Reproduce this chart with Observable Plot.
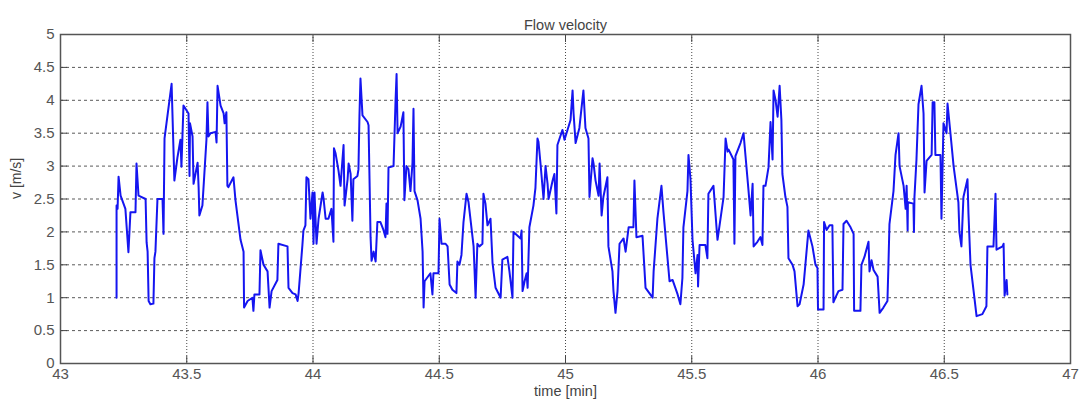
<!DOCTYPE html>
<html>
<head>
<meta charset="utf-8">
<script src="https://cdn.jsdelivr.net/npm/d3@7"></script>
<script src="https://cdn.jsdelivr.net/npm/@observablehq/plot@0.6"></script>
<style>
  html, body { margin: 0; padding: 0; background: #fff; }
  svg { display: block; }
</style>
</head>
<body>
<div id="chart"></div>
<script>
const chartTitle = "Flow velocity";
const xLabel = "time [min]";
const yLabel = "v [m/s]";
const xTicks = [43, 43.5, 44, 44.5, 45, 45.5, 46, 46.5, 47];
const yTicks = [0, 0.5, 1, 1.5, 2, 2.5, 3, 3.5, 4, 4.5, 5];

const timeMin = [43.222,43.222,43.226,43.230,43.238,43.257,43.269,43.277,43.297,43.301,43.309,43.337,43.341,43.345,43.349,43.356,43.368,43.372,43.376,43.384,43.404,43.408,43.412,43.440,43.451,43.463,43.475,43.479,43.487,43.507,43.511,43.513,43.523,43.527,43.543,43.547,43.550,43.562,43.578,43.582,43.586,43.594,43.614,43.618,43.622,43.634,43.646,43.650,43.657,43.661,43.665,43.685,43.693,43.713,43.725,43.727,43.741,43.760,43.764,43.768,43.788,43.792,43.804,43.820,43.828,43.836,43.859,43.863,43.899,43.903,43.919,43.931,43.939,43.943,43.958,43.962,43.970,43.974,43.982,43.990,43.998,44.002,44.006,44.014,44.022,44.038,44.042,44.050,44.061,44.073,44.081,44.083,44.089,44.101,44.109,44.121,44.125,44.137,44.141,44.149,44.156,44.160,44.176,44.180,44.184,44.188,44.196,44.216,44.220,44.228,44.232,44.240,44.248,44.255,44.267,44.279,44.287,44.291,44.295,44.299,44.319,44.327,44.331,44.335,44.347,44.358,44.362,44.370,44.378,44.386,44.394,44.398,44.402,44.414,44.426,44.434,44.438,44.442,44.457,44.465,44.473,44.477,44.497,44.501,44.509,44.525,44.533,44.541,44.552,44.568,44.572,44.580,44.588,44.596,44.608,44.616,44.636,44.640,44.644,44.651,44.659,44.671,44.675,44.683,44.691,44.703,44.711,44.723,44.743,44.750,44.770,44.778,44.790,44.794,44.822,44.826,44.830,44.838,44.846,44.850,44.857,44.873,44.881,44.889,44.893,44.901,44.913,44.921,44.929,44.933,44.949,44.956,44.964,44.968,44.988,44.996,45.004,45.020,45.028,45.032,45.040,45.055,45.071,45.079,45.091,45.095,45.107,45.111,45.119,45.131,45.135,45.143,45.150,45.166,45.170,45.186,45.190,45.198,45.206,45.214,45.230,45.238,45.250,45.269,45.273,45.281,45.305,45.317,45.345,45.349,45.364,45.380,45.388,45.412,45.424,45.444,45.455,45.463,45.467,45.483,45.487,45.495,45.503,45.515,45.523,45.525,45.531,45.554,45.562,45.566,45.586,45.598,45.602,45.626,45.634,45.642,45.646,45.665,45.669,45.673,45.693,45.705,45.713,45.725,45.733,45.741,45.745,45.760,45.772,45.780,45.784,45.792,45.804,45.812,45.820,45.824,45.832,45.840,45.848,45.855,45.859,45.871,45.879,45.883,45.899,45.907,45.919,45.927,45.943,45.950,45.962,45.978,45.990,45.998,46.000,46.022,46.024,46.034,46.046,46.057,46.061,46.069,46.081,46.097,46.101,46.113,46.129,46.141,46.143,46.168,46.172,46.184,46.200,46.204,46.212,46.220,46.236,46.244,46.259,46.275,46.279,46.283,46.299,46.307,46.319,46.323,46.339,46.347,46.351,46.355,46.356,46.378,46.380,46.382,46.390,46.398,46.410,46.418,46.422,46.430,46.450,46.454,46.461,46.465,46.485,46.489,46.497,46.509,46.513,46.525,46.537,46.556,46.560,46.568,46.576,46.592,46.596,46.604,46.628,46.651,46.667,46.671,46.695,46.703,46.707,46.731,46.735,46.739,46.747,46.750];

const velocity = [1.0,2.4,2.35,2.84,2.55,2.35,1.69,2.3,2.3,3.04,2.55,2.5,1.84,1.7,0.95,0.9,0.91,1.6,1.7,2.5,2.5,1.97,3.42,4.25,2.78,3.13,3.4,2.99,3.92,3.8,2.85,3.65,3.45,2.73,3.05,2.68,2.25,2.4,3.4,3.97,3.45,3.5,3.52,3.36,4.22,3.92,3.8,3.65,3.82,2.7,2.68,2.83,2.48,1.88,1.7,0.85,0.95,1.0,0.8,1.05,1.05,1.72,1.5,1.4,0.85,1.1,1.27,1.82,1.78,1.15,1.07,1.05,0.95,1.07,1.8,2.02,2.1,2.83,2.8,2.2,2.6,1.82,2.6,1.82,2.2,2.6,2.5,2.2,2.2,2.35,1.85,3.27,3.2,2.93,2.7,3.32,2.4,2.8,3.04,2.88,2.17,2.8,2.85,2.95,3.77,4.33,3.77,3.67,3.62,1.92,1.56,1.7,1.55,2.15,2.15,2.03,1.92,2.43,1.97,2.98,3.0,4.0,4.4,3.5,3.6,3.82,2.48,3.0,2.95,2.62,3.05,3.87,2.62,2.48,2.2,1.7,0.85,1.25,1.33,1.37,1.05,1.37,1.37,2.2,1.82,1.82,1.78,1.2,1.12,1.07,1.55,1.5,1.65,2.15,2.58,2.45,1.78,1.4,1.0,1.82,1.78,1.82,2.58,2.43,2.1,2.2,1.53,1.15,1.0,1.58,1.62,1.4,1.0,2.0,1.9,2.02,1.1,1.25,1.37,1.15,2.07,2.4,2.67,3.42,3.37,3.04,2.5,3.0,2.73,2.5,2.78,2.88,2.28,3.32,3.55,3.4,3.5,3.7,4.15,3.8,3.35,3.58,4.15,3.58,3.42,2.53,3.12,3.04,2.78,2.55,3.04,2.25,2.53,2.83,1.78,1.4,1.1,0.77,1.1,1.82,1.9,1.7,2.07,2.07,2.78,1.92,1.94,1.15,1.0,1.4,2.2,2.7,2.3,1.25,1.27,1.05,0.9,1.3,2.07,2.62,3.17,2.8,1.88,1.37,1.65,1.17,1.8,1.8,1.6,2.58,2.7,2.07,1.88,2.53,3.42,3.22,3.25,3.1,1.82,3.15,3.35,3.5,3.15,2.62,2.25,2.73,1.78,1.85,1.92,1.8,2.7,2.7,2.98,3.67,3.1,4.15,4.0,3.75,4.22,3.7,2.88,2.53,2.38,1.6,1.5,1.4,0.87,0.9,1.2,1.5,2.02,1.78,1.5,1.45,0.82,0.82,2.15,2.03,2.1,2.1,0.93,1.0,1.1,1.12,2.12,2.17,2.07,1.97,0.8,0.8,1.5,1.62,1.85,1.4,1.57,1.42,1.32,0.77,0.85,0.95,1.5,2.12,2.62,3.17,3.5,3.0,2.7,2.35,2.7,2.02,2.45,2.43,2.0,2.53,3.1,3.94,4.22,3.8,2.6,3.08,3.17,3.97,3.97,3.17,3.17,2.2,3.65,3.5,3.95,3.48,3.0,2.45,2.0,1.78,2.53,2.8,2.27,1.5,0.72,0.75,0.87,1.78,1.78,2.58,1.73,1.78,1.82,1.03,1.27,1.05];

const n = Math.min(timeMin.length, velocity.length);
const data = d3.range(n).map(i => ({t: timeMin[i], v: velocity[i]}));

const fmt = d => `${d}`;
const font = "Liberation Sans, Arial, sans-serif";
const tickColor = "#555";

const chart = Plot.plot({
  width: 1079,
  height: 403,
  marginLeft: 60,
  marginRight: 9,
  marginTop: 34,
  marginBottom: 40,
  style: {fontFamily: font, fontSize: "15px", color: tickColor, background: "#fff", overflow: "visible"},
  x: {domain: [43, 47], ticks: xTicks, label: null},
  y: {domain: [0, 5], ticks: yTicks, label: null},
  marks: [
    Plot.gridY(yTicks, {stroke: "#333", strokeOpacity: 0.9, strokeWidth: 0.9, strokeDasharray: "3,3"}),
    Plot.gridX(xTicks, {stroke: "#333", strokeOpacity: 0.9, strokeWidth: 1, strokeDasharray: "1,2"}),
    Plot.axisX(xTicks, {anchor: "bottom", tickSize: -7, tickPadding: 12, tickFormat: fmt, label: null, stroke: "#444", fill: tickColor}),
    Plot.axisX(xTicks, {anchor: "top", tickSize: -7, tickFormat: () => "", label: null, stroke: "#444"}),
    Plot.axisY(yTicks, {anchor: "left", tickSize: -7, tickPadding: 13, tickFormat: fmt, label: null, stroke: "#444", fill: tickColor}),
    Plot.axisY(yTicks, {anchor: "right", tickSize: -7, tickFormat: () => "", label: null, stroke: "#444"}),
    Plot.frame({stroke: "#555", strokeWidth: 1.5}),
    Plot.line(data, {x: "t", y: "v", stroke: "#1515f0", strokeWidth: 2, curve: "linear"}),
    Plot.text([chartTitle], {frameAnchor: "top", dy: -15, fontSize: 14.5, fill: "#444"}),
    Plot.text([xLabel], {frameAnchor: "bottom", dy: 32, fontSize: 14.5, fill: "#444"}),
    Plot.text([yLabel], {frameAnchor: "left", dx: -44, rotate: -90, fontSize: 14, fill: "#444"})
  ]
});
document.getElementById("chart").appendChild(chart);
</script>
</body>
</html>
